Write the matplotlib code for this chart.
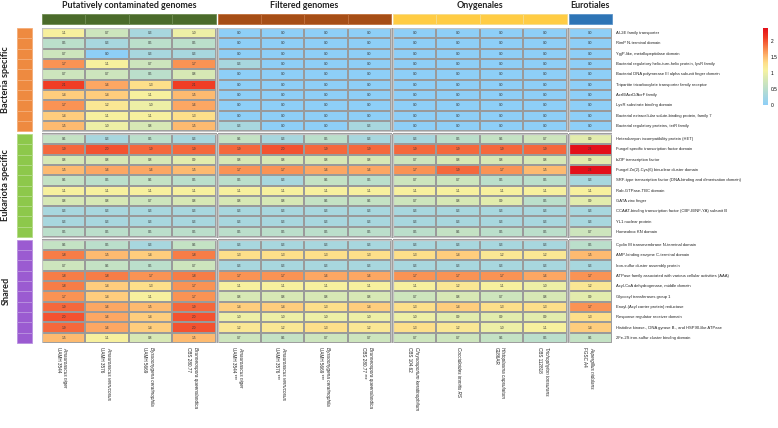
import numpy as np
import matplotlib
matplotlib.use("Agg")
import matplotlib.pyplot as plt
from matplotlib.colors import LinearSegmentedColormap, Normalize
from matplotlib.cm import ScalarMappable
from matplotlib.patches import Rectangle

plt.rcParams['font.family'] = ['Liberation Sans', 'DejaVu Sans']

# ---- data ----
row_groups = ["Bacteria specific", "Eukariota specific", "Shared"]
row_labels = [
    "AI-2E family transporter", "RimP N-terminal domain", "YgjP-like, metallopeptidase domain",
    "Bacterial regulatory helix-turn-helix protein, lysR family",
    "Bacterial DNA polymerase III alpha subunit finger domain",
    "Tripartite tricarboxylate transporter family receptor", "AcrB/AcrD/AcrF family",
    "LysR substrate binding domain", "Bacterial extracellular solute-binding protein, family 7",
    "Bacterial regulatory proteins, tetR family",
    "Heterokaryon incompatibility protein (HET)", "Fungal specific transcription factor domain",
    "bZIP transcription factor", "Fungal Zn(2)-Cys(6) binuclear cluster domain",
    "SRF-type transcription factor (DNA-binding and dimerisation domain)", "Rab-GTPase-TBC domain",
    "GATA zinc finger", "CCAAT-binding transcription factor (CBF-B/NF-YA) subunit B",
    "YL1 nuclear protein", "Homeobox KN domain",
    "Cyclin M transmembrane N-terminal domain", "AMP-binding enzyme C-terminal domain",
    "Iron-sulfur cluster assembly protein",
    "ATPase family associated with various cellular activities (AAA)",
    "Acyl-CoA dehydrogenase, middle domain", "Glycosyl transferases group 1",
    "Enoyl-(Acyl carrier protein) reductase", "Response regulator receiver domain",
    "Histidine kinase-, DNA gyrase B-, and HSP90-like ATPase",
    "2Fe-2S iron-sulfur cluster binding domain",
]
col_groups = ["Putatively contaminated genomes", "Filtered genomes", "Onygenales", "Eurotiales"]
col_species = ["Amauroascus niger", "Amauroascus verrucosus", "Byssoonygena ceratinophila",
               "Brunneospora queenslandica", "Amauroascus niger", "Amauroascus verrucosus",
               "Byssoonygena ceratinophila", "Brunneospora queenslandica",
               "Chrysosporium keratinophilum", "Coccidioides immitis RS", "Histoplasma capsulatum",
               "Trichophyton tonsurans", "Aspergillus nidulans"]
col_strain = ["UAMH 3544", "UAMH 3576", "UAMH 5669", "CBS 280.77",
              "UAMH 3544 ***", "UAMH 3576 ***", "UAMH 5669 ***", "CBS 280.77 ***",
              "CBS 104.62", "", "G186AR", "CBS 112818", "FGSC A4"]

contaminated = [
    [1.1, 0.7, 0.3, 1.0], [0.5, 0.3, 0.5, 0.5], [0.7, 0.0, 0.3, 0.3], [1.7, 1.1, 0.7, 1.7],
    [0.7, 0.7, 0.5, 0.8], [2.1, 1.6, 1.3, 2.1], [1.4, 1.4, 1.1, 1.5], [1.7, 1.2, 1.0, 1.6],
    [1.4, 1.1, 1.1, 1.3], [1.5, 1.0, 0.8, 1.5],
    [0.6, 0.3, 0.5, 0.3], [1.9, 2.0, 1.9, 1.9], [0.8, 0.8, 0.8, 0.9], [1.5, 1.6, 1.6, 1.5],
    [0.6, 0.5, 0.6, 0.5], [1.1, 1.1, 1.1, 1.1], [0.8, 0.8, 0.7, 0.8], [0.3, 0.3, 0.3, 0.3],
    [0.3, 0.3, 0.3, 0.3], [0.5, 0.5, 0.5, 0.5],
    [0.6, 0.5, 0.3, 0.6], [1.8, 1.5, 1.4, 1.8], [0.7, 0.6, 0.5, 0.7], [1.8, 1.8, 1.7, 1.8],
    [1.8, 1.4, 1.3, 1.7], [1.7, 1.4, 1.1, 1.7], [1.9, 1.6, 1.5, 1.9], [2.0, 1.6, 1.4, 2.0],
    [1.9, 1.6, 1.4, 2.0], [1.5, 1.1, 0.8, 1.5],
]
filtered = [
    [0.0, 0.0, 0.0, 0.0], [0.0, 0.0, 0.0, 0.0], [0.0, 0.0, 0.0, 0.0], [0.3, 0.0, 0.0, 0.0],
    [0.0, 0.0, 0.0, 0.0], [0.0, 0.0, 0.0, 0.0], [0.0, 0.0, 0.0, 0.0], [0.0, 0.0, 0.0, 0.0],
    [0.0, 0.0, 0.0, 0.0], [0.3, 0.0, 0.0, 0.3],
    [0.6, 0.3, 0.5, 0.3], [1.9, 2.0, 1.9, 1.9], [0.8, 0.8, 0.8, 0.8], [1.7, 1.7, 1.6, 1.6],
    [0.5, 0.3, 0.6, 0.5], [1.1, 1.1, 1.1, 1.1], [0.8, 0.8, 0.6, 0.6], [0.3, 0.3, 0.3, 0.3],
    [0.3, 0.3, 0.3, 0.3], [0.5, 0.5, 0.5, 0.5],
    [0.3, 0.3, 0.3, 0.3], [1.3, 1.3, 1.3, 1.3], [0.3, 0.3, 0.3, 0.3], [1.7, 1.7, 1.6, 1.6],
    [1.1, 1.1, 1.1, 1.1], [0.8, 0.8, 0.8, 0.8], [1.4, 1.4, 1.3, 1.4], [1.0, 1.0, 1.0, 1.0],
    [1.2, 1.2, 1.3, 1.2], [0.7, 0.6, 0.7, 0.7],
]
onygenales = [
    [0.0, 0.0, 0.0, 0.0], [0.0, 0.0, 0.0, 0.0], [0.0, 0.0, 0.0, 0.0], [0.0, 0.0, 0.0, 0.0],
    [0.0, 0.0, 0.0, 0.0], [0.0, 0.0, 0.0, 0.0], [0.0, 0.0, 0.0, 0.0], [0.0, 0.0, 0.0, 0.0],
    [0.0, 0.0, 0.0, 0.0], [0.0, 0.0, 0.0, 0.0],
    [0.3, 0.5, 0.6, 0.7], [1.9, 1.9, 1.9, 1.9], [0.7, 0.8, 0.8, 0.8], [1.7, 1.9, 1.7, 1.5],
    [0.7, 0.7, 0.5, 0.5], [1.1, 1.1, 1.1, 1.1], [0.7, 0.8, 0.9, 0.5], [0.3, 0.3, 0.3, 0.3],
    [0.3, 0.3, 0.3, 0.3], [0.5, 0.6, 0.5, 0.5],
    [0.3, 0.3, 0.3, 0.3], [1.3, 1.4, 1.2, 1.2], [0.3, 0.3, 0.3, 0.3], [1.7, 1.7, 1.7, 1.6],
    [1.1, 1.2, 1.1, 1.0], [0.7, 0.8, 0.7, 0.8], [1.3, 1.4, 1.3, 1.3], [1.0, 0.9, 0.9, 0.9],
    [1.3, 1.2, 1.0, 1.1], [0.7, 0.7, 0.6, 0.5],
]
eurotiales = [0.0, 0.0, 0.0, 0.0, 0.0, 0.0, 0.0, 0.0, 0.0, 0.0,
              0.9, 2.4, 0.9, 2.4, 0.3, 1.1, 0.9, 0.3, 0.3, 0.7,
              0.5, 1.5, 0.3, 1.7, 1.2, 0.9, 1.7, 1.3, 1.4, 0.6]

values = np.column_stack([np.array(contaminated), np.array(filtered),
                          np.array(onygenales), np.array(eurotiales)])
col_sizes = [4, 4, 4, 1]
row_sizes = [10, 10, 10]
col_colors = ["#4b6b2b", "#a64e16", "#ffcc44", "#2e74b5"]
col_edge = ["#6f8c52", "#c0703c", "#f5dc8a", "#5b93c9"]
row_colors = ["#ee8a40", "#8dc84b", "#9b5bd1"]
row_edge = ["#f4ad78", "#b2da86", "#b992e0"]

cmap = LinearSegmentedColormap.from_list("hm", [
    (0.0, "#8ecff7"), (0.125, "#a8d7de"), (0.21, "#bbdfcb"), (0.33, "#d6e8b6"),
    (0.45, "#f6f2a0"), (0.55, "#fedd88"), (0.64, "#fdb46c"), (0.72, "#f98e50"),
    (0.80, "#f5643a"), (0.88, "#f03c24"), (1.0, "#e3101a")])
norm = Normalize(0, 2.4)

# ---- layout ----
W, H = 778, 428
fig = plt.figure(figsize=(W / 100, H / 100), dpi=100)
gx, gy = 0.045, 0.25
ncol, nrow = sum(col_sizes), sum(row_sizes)
xmax, ymax = ncol + gx * (len(col_sizes) - 1), nrow + gy * (len(row_sizes) - 1)
ax = fig.add_axes([42 / W, 1 - 343 / H, 570 / W, 315 / H])
ax.set_xlim(0, xmax); ax.set_ylim(ymax, 0); ax.axis("off")
px, py = xmax / 570, ymax / 315   # data units per pixel

col_x0 = [sum(col_sizes[:j]) + j * gx for j in range(len(col_sizes))]
row_y0 = [sum(row_sizes[:i]) + i * gy for i in range(len(row_sizes))]
col_pos = np.concatenate([np.arange(n) + col_x0[j] for j, n in enumerate(col_sizes)])
row_pos = np.concatenate([np.arange(n) + row_y0[i] for i, n in enumerate(row_sizes)])

for i, nr in enumerate(row_sizes):
    r0 = sum(row_sizes[:i])
    for j, nc in enumerate(col_sizes):
        c0 = sum(col_sizes[:j])
        block = values[r0:r0 + nr, c0:c0 + nc]
        ax.pcolormesh(np.arange(nc + 1) + col_x0[j], np.arange(nr + 1) + row_y0[i], block,
                      cmap=cmap, norm=norm, edgecolors="#9a9a9a", linewidth=0.35)
        ax.add_patch(Rectangle((col_x0[j], row_y0[i]), nc, nr, fill=False,
                               ec="#c4c4c4", lw=0.9))

for r in range(nrow):
    for c in range(ncol):
        ax.text(col_pos[c] + 0.5, row_pos[r] + 0.5, f"{values[r, c]:.1f}",
                ha="center", va="center", fontsize=2.3, color="#333333")

# top group bars and titles
for j, n in enumerate(col_sizes):
    for k in range(n):
        ax.add_patch(Rectangle((col_x0[j] + k, -14 * py), 1, 10 * py, fc=col_colors[j],
                               ec=col_edge[j], lw=0.6, clip_on=False))
    ax.text(col_x0[j] + n / 2, -22 * py, col_groups[j], ha="center", va="center",
            fontsize=6.4, fontweight="bold", family=["Lato", "DejaVu Sans"], color="#222222")

# side group bars and titles
for i, n in enumerate(row_sizes):
    for k in range(n):
        ax.add_patch(Rectangle((-25 * px, row_y0[i] + k), 15 * px, 1, fc=row_colors[i],
                               ec=row_edge[i], lw=0.6, clip_on=False))
    ax.text(-36 * px, row_y0[i] + n / 2, row_groups[i], ha="center", va="center",
            rotation=90, fontsize=6.6, fontweight="bold", family=["Lato", "DejaVu Sans"],
            color="#222222")

# row labels
for r in range(nrow):
    ax.text(xmax + 4 * px, row_pos[r] + 0.5, row_labels[r], ha="left", va="center",
            fontsize=3.0, color="#222222")

# column labels
for c in range(ncol):
    xc = col_pos[c] + 0.5
    if col_strain[c]:
        ax.text(xc + 0.03, ymax + 4 * py, col_species[c], rotation=-90, ha="center", va="top",
                fontsize=3.3, style="italic", color="#222222")
        ax.text(xc - 0.13, ymax + 4 * py, col_strain[c], rotation=-90, ha="center", va="top",
                fontsize=3.3, color="#222222")
    else:
        ax.text(xc, ymax + 4 * py, col_species[c], rotation=-90, ha="center", va="top",
                fontsize=3.3, style="italic", color="#222222")

# colorbar
cax = fig.add_axes([763 / W, 1 - 105 / H, 5 / W, 77 / H])
cb = fig.colorbar(ScalarMappable(norm=norm, cmap=cmap), cax=cax)
cb.outline.set_visible(False)
cb.set_ticks([0, 0.5, 1, 1.5, 2])
cb.set_ticklabels(["0", "0.5", "1", "1.5", "2"])
cax.tick_params(length=0, labelsize=3.5, pad=2)

fig.savefig("out.png", dpi=100)
